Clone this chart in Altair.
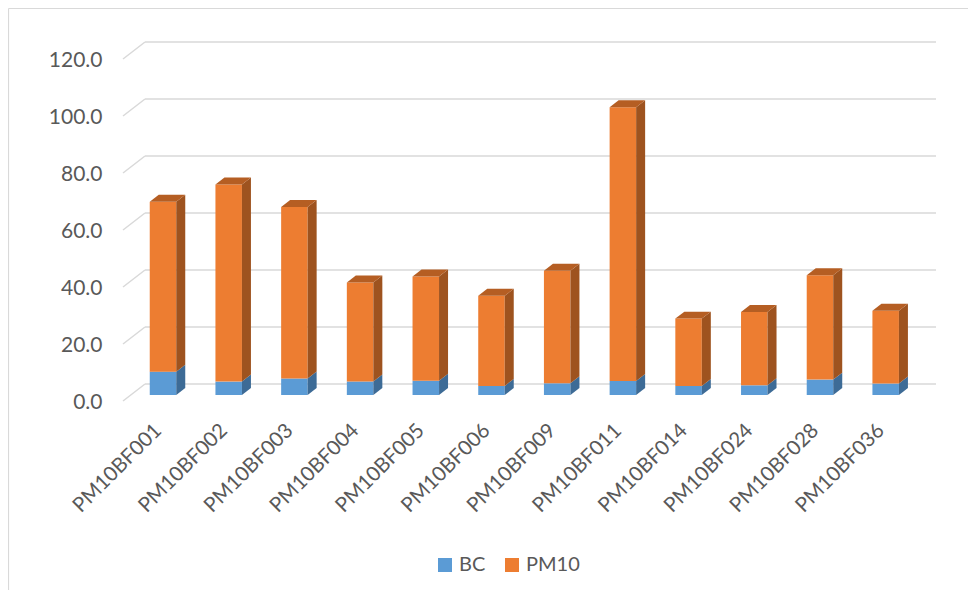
import altair as alt
import pandas as pd

categories = ["PM10BF001", "PM10BF002", "PM10BF003", "PM10BF004", "PM10BF005",
              "PM10BF006", "PM10BF009", "PM10BF011", "PM10BF014", "PM10BF024",
              "PM10BF028", "PM10BF036"]
bc = [8.2, 4.7, 5.8, 4.7, 5.0, 3.2, 4.1, 4.9, 3.2, 3.4, 5.4, 4.0]
pm10 = [59.6, 69.2, 60.2, 34.8, 36.6, 31.6, 39.5, 96.1, 23.6, 25.7, 36.6, 25.6]
tick_values = [0, 20, 40, 60, 80, 100, 120]

series_names = ["BC", "PM10"]
front_colors = ["#5B9BD5", "#ED7D31"]
side_colors = ["#3D6B96", "#9E531F"]
top_color = "#B55E23"
grid_color = "#D9D9D9"
text_color = "#595959"

# style constants for the pseudo-3D look (in scale units)
HALF_W = 0.2017
DEPTH_X = 0.137
DEPTH_Y = 2.45
X_MIN = -0.6088
X_MAX = 11.766
PLOT_W, PLOT_H = 813, 342

front_rows, face_rows = [], []
for i, c in enumerate(categories):
    lo = 0.0
    l, r = i - HALF_W, i + HALF_W
    for k, (s, v) in enumerate(zip(series_names, [bc[i], pm10[i]])):
        hi = lo + v
        front_rows.append(dict(cat=c, series=s, x=l, x2=r, y=lo, y2=hi))
        sid = f"{c}-{s}-side"
        face_rows.append(dict(id=sid, fill=side_colors[k], x=r, y=lo, y2=hi))
        face_rows.append(dict(id=sid, fill=side_colors[k], x=r + DEPTH_X,
                              y=lo + DEPTH_Y, y2=hi + DEPTH_Y))
        lo = hi
    tid = f"{c}-top"
    face_rows += [
        dict(id=tid, fill=top_color, x=l, y=lo, y2=lo),
        dict(id=tid, fill=top_color, x=l + DEPTH_X, y=lo, y2=lo + DEPTH_Y),
        dict(id=tid, fill=top_color, x=r, y=lo, y2=lo + DEPTH_Y),
        dict(id=tid, fill=top_color, x=r + DEPTH_X, y=lo + DEPTH_Y, y2=lo + DEPTH_Y),
    ]

front_df = pd.DataFrame(front_rows)
face_df = pd.DataFrame(face_rows)
grid_df = pd.DataFrame({"v": tick_values})
one = pd.DataFrame({"a": [0]})

xscale = alt.Scale(domain=[X_MIN, X_MAX], nice=False, zero=False)
yscale = alt.Scale(domain=[0, 120], nice=False, zero=True)

label_expr = "[" + ",".join(f"'{c}'" for c in categories) + "][datum.value]"

x_axis = alt.Axis(values=list(range(len(categories))), labelExpr=label_expr,
                  title=None, grid=False, domain=False, ticks=False,
                  labelAngle=315, labelAlign="right", labelBaseline="middle",
                  labelPadding=32, labelOffset=-5, labelFontSize=20.5,
                  labelColor=text_color,
                  labelOverlap=False, labelFlush=False, labelBound=False)
y_axis = alt.Axis(values=tick_values, format=".1f", title=None, grid=False,
                  domain=False, ticks=False, labelPadding=21, labelOffset=7,
                  labelFontSize=21, labelColor=text_color)

border_left = alt.Chart(one).mark_rule(color=grid_color, strokeWidth=1.2).encode(
    x=alt.value(-114.5), y=alt.value(-44.5), y2=alt.value(700))
border_top = alt.Chart(one).mark_rule(color=grid_color, strokeWidth=1.2).encode(
    x=alt.value(-114.5), x2=alt.value(2000), y=alt.value(-44.5))

stubs = alt.Chart(grid_df).mark_rule(color=grid_color, strokeWidth=1.5,
                                     yOffset=6, y2Offset=-11).encode(
    x=alt.value(0), x2=alt.value(22),
    y=alt.Y("v:Q", scale=yscale, axis=y_axis), y2="v:Q")
walls = alt.Chart(grid_df).mark_rule(color=grid_color, strokeWidth=1.5,
                                     yOffset=-11).encode(
    x=alt.value(22), x2=alt.value(PLOT_W),
    y=alt.Y("v:Q", scale=yscale, axis=y_axis))

fronts = alt.Chart(front_df).mark_rect().encode(
    x=alt.X("x:Q", scale=xscale, axis=x_axis),
    x2="x2:Q",
    y=alt.Y("y:Q", scale=yscale, axis=y_axis),
    y2="y2:Q",
    color=alt.Color("series:N",
                    scale=alt.Scale(domain=series_names, range=front_colors),
                    legend=alt.Legend(title=None, orient="none", legendX=312, legendY=502,
                                      direction="horizontal", symbolType="square",
                                      symbolSize=196, symbolStrokeWidth=0,
                                      symbolOpacity=1, labelFontSize=20,
                                      labelColor=text_color, columnPadding=16,
                                      labelOffset=4, padding=0)),
)

faces = alt.Chart(face_df).mark_area(interpolate="linear").encode(
    x=alt.X("x:Q", scale=xscale, axis=x_axis),
    y=alt.Y("y:Q", scale=yscale, axis=y_axis),
    y2="y2:Q",
    detail="id:N",
    color=alt.Color("fill:N", scale=None, legend=None),
)

chart = alt.layer(border_left, border_top, stubs, walls, fronts, faces).resolve_scale(
    color="independent"
).properties(
    width=PLOT_W, height=PLOT_H,
    autosize=alt.AutoSizeParams(type="none"),
    padding={"left": 115, "top": 45, "right": 32, "bottom": 195},
).configure(font="Lato").configure_view(stroke=None)

chart.save("out.html", embed_options={"renderer": "svg", "actions": False})
